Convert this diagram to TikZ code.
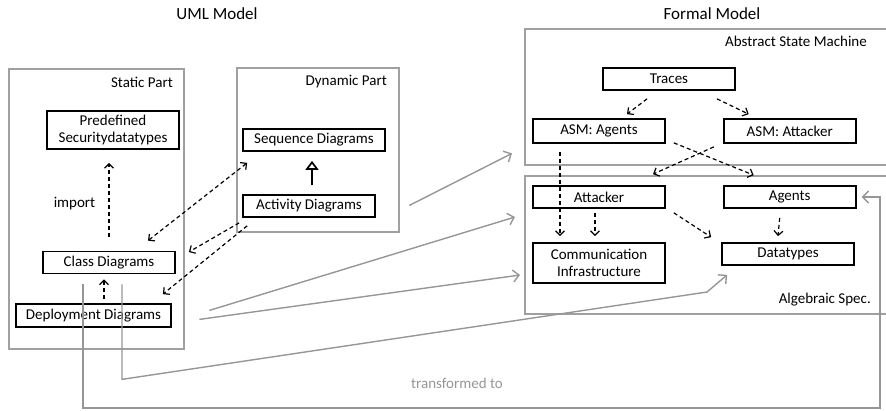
\documentclass[tikz,border=0pt]{standalone}
\usepackage{fontspec}
\setmainfont{Carlito}
\usetikzlibrary{arrows.meta,positioning}
\definecolor{framegray}{RGB}{160,160,160}
\definecolor{transgray}{RGB}{150,150,150}

\begin{document}
\begin{tikzpicture}[
    x=1pt, y=-1pt,
    font=\fontsize{15}{17.5}\selectfont,
    frame/.style={rectangle, draw=framegray, line width=2.4pt, inner sep=0pt, anchor=north west},
    blk/.style={rectangle, draw, line width=1.7pt, minimum width=132pt, minimum height=22pt, inner sep=0pt, align=center},
    tag/.style={anchor=east, inner sep=0pt},
    dep/.style={-{Straight Barb[length=4.5pt, width=9pt]}, line width=1.2pt, dash pattern=on 4pt off 3pt},
    dep2/.style={dep, {Straight Barb[length=4.5pt, width=9pt]}-{Straight Barb[length=4.5pt, width=9pt]}},
    gen/.style={-{Triangle[open, length=9pt, width=13pt]}, line width=1.7pt},
    trans/.style={-{Straight Barb[length=6pt, width=12pt]}, draw=transgray, line width=1.4pt}
]
    \useasboundingbox (0,0) rectangle (886,410);
    \clip (0,0) rectangle (886,410);

    \node (umltitle) at (217,14) {\fontsize{17}{20}\selectfont UML Model};
    \node (formaltitle) at (712,14) {\fontsize{17}{20}\selectfont Formal Model};

    \node[frame, minimum width=175pt, minimum height=280pt] (static) at (8,68) {};
    \node[frame, minimum width=162pt, minimum height=164pt] (dynamic) at (236,67) {};
    \node[frame, minimum width=371pt, minimum height=136pt] (asm) at (524,28) {};
    \node[frame, minimum width=371pt, minimum height=138pt] (alg) at (524,175) {};

    \node[tag] (statictag) at (173,82) {Static Part};
    \node[tag] (dynamictag) at (387,82) {Dynamic Part};
    \node[tag] (asmtag) at (867,41) {Abstract State Machine};
    \node[tag] (algtag) at (871,300) {Algebraic Spec.};

    \node[blk, minimum height=38pt] (predef) at (113,130) {Predefined\\Securitydatatypes};
    \node[blk] (classd) at (109,262.5) {Class Diagrams};
    \node[blk, minimum width=155pt, minimum height=23pt] (deploy) at (93.5,315.5) {Deployment Diagrams};
    \node[blk, minimum width=142pt] (seqd) at (314,140) {Sequence Diagrams};
    \node[blk] (actd) at (309,206) {Activity Diagrams};

    \node[blk] (traces) at (669,79) {Traces};
    \node[blk, minimum height=24pt] (asmag) at (599,131) {ASM: Agents};
    \node[blk, minimum height=24pt, right=57pt of asmag] (asmatt) {ASM: Attacker};
    \node[blk] (attacker) at (599,197) {Attacker};
    \node[blk, right=57pt of attacker] (agents) {Agents};
    \node[blk, minimum height=40pt] (comm) at (599,263) {Communication\\Infrastructure};
    \node[blk] (datat) at (788,254) {Datatypes};

    \node (importlbl) at (74.5,204) {import};
    \node[text=transgray] (translbl) at (457,383) {transformed to};

    \draw[dep] ([shift={(0,-14)}]classd.north) -- ([shift={(-4,13)}]predef.south);
    \draw[dep] ([shift={(10.5,-4)}]deploy.north) -- ([shift={(-5,5)}]classd.south);
    \draw[dep2] ([shift={(39,-10)}]classd.north) -- ([shift={(5,11)}]seqd.south west);
    \draw[dep] ([shift={(-3,5)}]actd.south west) -- ([shift={(13,-10.5)}]classd.east);
    \draw[dep] ([shift={(5,8)}]actd.south west) -- ([shift={(-9,-9)}]deploy.north east);
    \draw[gen] ([shift={(3,-9)}]actd.north) -- ([shift={(-2,9)}]seqd.south);

    \draw[dep] ([shift={(-22,8)}]traces.south) -- ([shift={(28,-4)}]asmag.north);
    \draw[dep] ([shift={(48,8)}]traces.south) -- ([shift={(-41,-4)}]asmatt.north);
    \draw[dep] ([shift={(8,-1)}]asmag.south east) -- ([shift={(-36,-10)}]agents.north);
    \draw[dep] ([shift={(-9,3)}]asmatt.south west) -- ([shift={(54,-11)}]attacker.north);
    \draw[dep] ([shift={(-39,8)}]asmag.south) -- ([shift={(-39,-6)}]comm.north);
    \draw[dep] ([shift={(-4,4)}]attacker.south) -- ([shift={(-4,-6)}]comm.north);
    \draw[dep] ([shift={(8,4)}]attacker.south east) -- ([shift={(-10,-5)}]datat.north west);
    \draw[dep] ([shift={(-10,9)}]agents.south) -- ([shift={(-10,-6)}]datat.north);

    \draw[trans] ([shift={(9,-28)}]dynamic.south east) -- ([shift={(-12,-13)}]asm.south west);
    \draw[trans] ([shift={(24,-40)}]static.south east) -- ([shift={(-9,42)}]alg.north west);
    \draw[trans] ([shift={(14,-31)}]static.south east) -- ([shift={(-4,100)}]alg.north west);
    \draw[trans] ([shift={(13,10)}]classd.south) -- ++(0,95) -- (707,292) -- ([shift={(6,9)}]datat.south west);
    \draw[trans] ([shift={(-26,10)}]classd.south) |- (880,408) |- ([xshift=5pt]agents.east);
\end{tikzpicture}
\end{document}
